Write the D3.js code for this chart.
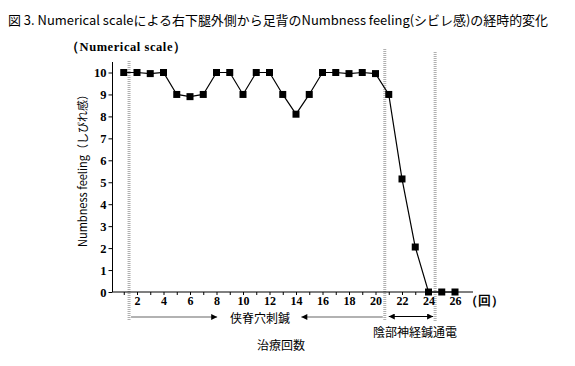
<!DOCTYPE html>
<html><head><meta charset="utf-8">
<script src="https://cdn.jsdelivr.net/npm/d3@7/dist/d3.min.js"></script>
<style>body{margin:0;background:#fff}svg{display:block}</style>
</head><body>
<svg id="c" width="575" height="366"></svg>
<script>
const sessions = d3.range(1, 27);
const numbness = [10,10,9.95,10,9,8.9,9,10,10,9,10,10,9,8.1,9,10,10,9.95,10,9.95,9,5.15,2.05,0,0,0];
const yTicks = [0,1,2,3,4,5,6,7,8,9,10];
const xTickLabels = [2,4,6,8,10,12,14,16,18,20,22,24,26];
const phaseMarks = [1.4, 20.7, 24.5];
const titleText = "図 3. Numerical scaleによる右下腿外側から足背のNumbness feeling(シビレ感)の経時的変化";
const phase1Label = "侠脊穴刺鍼";
const phase2Label = "陰部神経鍼通電";
const xTitle = "治療回数";
const yTitle = "Numbness feeling（しびれ感）";
const yUnit = "（Numerical scale）";
const xUnit = "（回）";

const svg = d3.select("#c");
const x = d3.scaleLinear().domain([0, 26]).range([110.5, 455]);
const y = d3.scaleLinear().domain([0, 10]).range([292, 72.5]);
const serif = "'Liberation Serif', 'DejaVu Serif', serif";
const cjk = "'Noto Sans CJK JP', sans-serif";

svg.append("text").attr("x", 8).attr("y", 25).attr("font-family", cjk)
  .attr("font-size", 13).attr("textLength", 540).attr("lengthAdjust","spacingAndGlyphs").text(titleText);

// phase marks
const markTops = [61, 49, 52];
phaseMarks.forEach((p, i) => {
  svg.append("line").attr("x1", x(p)).attr("x2", x(p)).attr("y1", markTops[i]).attr("y2", 321)
    .attr("stroke", "#b0b0b0").attr("stroke-width", 3).attr("stroke-dasharray", "1,1");
});

// axes
const gx = svg.append("g").attr("transform", `translate(0,${y(0)})`)
  .call(d3.axisBottom(x).tickValues(sessions).tickSize(3).tickPadding(1.5)
    .tickFormat(d => xTickLabels.includes(d) ? d : ""));
gx.select(".domain").remove();
gx.selectAll("text").attr("font-family", serif).attr("font-weight", "bold").attr("font-size", 12);
svg.append("line").attr("x1", 112.5).attr("x2", 473).attr("y1", y(0)).attr("y2", y(0)).attr("stroke", "#000");

const gy = svg.append("g").attr("transform", `translate(112.5,0)`)
  .call(d3.axisLeft(y).tickValues(yTicks).tickSize(4).tickPadding(2));
gy.select(".domain").remove();
gy.selectAll("text").attr("font-family", serif).attr("font-weight", "bold").attr("font-size", 12.5);
svg.append("line").attr("x1", 112.5).attr("x2", 112.5).attr("y1", 62).attr("y2", y(0)).attr("stroke", "#000");

svg.append("text").attr("x", 66).attr("y", 51).attr("font-family", serif).attr("font-weight", "bold")
  .attr("font-size", 12.5).attr("textLength", 120).attr("lengthAdjust", "spacing").text(yUnit);
svg.append("text").attr("x", 465).attr("y", y(0) + 13).attr("font-family", serif).attr("font-weight", "bold")
  .attr("font-size", 12.5).text(xUnit);

svg.append("text").attr("transform", `translate(87,168) rotate(-90)`).attr("text-anchor", "middle")
  .attr("font-family", cjk).attr("font-size", 11.5).attr("textLength", 158).attr("lengthAdjust", "spacingAndGlyphs").text(yTitle);

// line + markers
const pts = sessions.map((s, i) => [s, numbness[i]]);
svg.append("path").datum(pts).attr("fill", "none").attr("stroke", "#000").attr("stroke-width", 1.2)
  .attr("d", d3.line().x(d => x(d[0])).y(d => y(d[1])));
svg.selectAll("rect.m").data(pts).join("rect").attr("class", "m")
  .attr("x", d => x(d[0]) - 3.5).attr("y", d => y(d[1]) - 3.5).attr("width", 7).attr("height", 7).attr("fill", "#000");

// arrows
const defs = svg.append("defs");
defs.append("marker").attr("id", "ah").attr("viewBox", "0 0 10 10").attr("refX", 10).attr("refY", 5)
  .attr("markerWidth", 10).attr("markerHeight", 6).attr("markerUnits", "userSpaceOnUse").attr("orient", "auto-start-reverse")
  .append("path").attr("d", "M0,0L10,5L0,10Z").attr("fill", "#000");
const ay = 317;
svg.append("line").attr("x1", x(1.4) + 2).attr("x2", x(8.05)).attr("y1", ay).attr("y2", ay)
  .attr("stroke", "#666").attr("stroke-width", 1.2).attr("marker-end", "url(#ah)");
svg.append("line").attr("x1", x(14.4)).attr("x2", x(20.7) - 2).attr("y1", ay).attr("y2", ay)
  .attr("stroke", "#666").attr("stroke-width", 1.2).attr("marker-start", "url(#ah)");
svg.append("line").attr("x1", x(20.7) + 4).attr("x2", x(24.5) - 2).attr("y1", ay - 0.5).attr("y2", ay - 0.5)
  .attr("stroke", "#000").attr("stroke-width", 1.2).attr("marker-start", "url(#ah)").attr("marker-end", "url(#ah)");

svg.append("text").attr("x", 260).attr("y", 323).attr("text-anchor", "middle").attr("font-family", cjk)
  .attr("font-size", 12).text(phase1Label);
svg.append("text").attr("x", 415).attr("y", 337).attr("text-anchor", "middle").attr("font-family", cjk)
  .attr("font-size", 12).text(phase2Label);
svg.append("text").attr("x", 281).attr("y", 350).attr("text-anchor", "middle").attr("font-family", cjk)
  .attr("font-size", 12).text(xTitle);
</script>
</body></html>
